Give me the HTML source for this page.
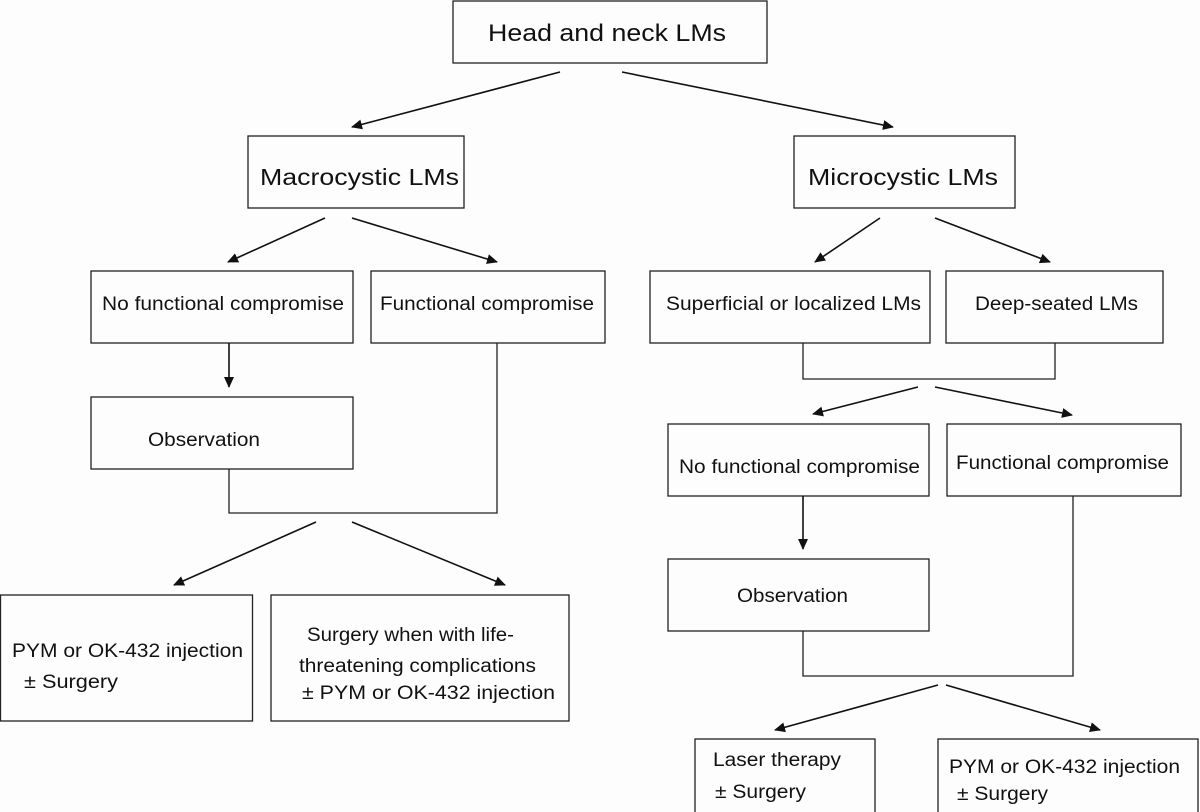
<!DOCTYPE html>
<html><head><meta charset="utf-8"><style>
html,body{margin:0;padding:0;background:#fdfdfe;}
svg{display:block}
text{font-family:"Liberation Sans",Arial,sans-serif;fill:#111;}
</style></head><body>
<svg width="1200" height="812" viewBox="0 0 1200 812" xmlns="http://www.w3.org/2000/svg">
<defs><marker id="a" markerWidth="12" markerHeight="10" refX="10" refY="5" orient="auto" markerUnits="userSpaceOnUse"><path d="M0,0 L11,5 L0,10 z" fill="#111"/></marker></defs>
<g fill="none" stroke="#222" stroke-width="1.3">
<rect x="453" y="1" width="314" height="62"/>
<rect x="248" y="136" width="216" height="72"/>
<rect x="794" y="136" width="221" height="72"/>
<rect x="91" y="271" width="262" height="72"/>
<rect x="371" y="271" width="234" height="72"/>
<rect x="91" y="397" width="262" height="72"/>
<rect x="650" y="271" width="280" height="72"/>
<rect x="946" y="271" width="217" height="72"/>
<rect x="668" y="424" width="261" height="72"/>
<rect x="947" y="424" width="234" height="72"/>
<rect x="668" y="559" width="261" height="72"/>
<rect x="0.5" y="595" width="252" height="126"/>
<rect x="271" y="595" width="298" height="126"/>
<rect x="695" y="739" width="180" height="80"/>
<rect x="938" y="739" width="260" height="80"/>
<polyline points="229,469 229,513 497,513 497,343"/>
<polyline points="803,343 803,379 1055,379 1055,343"/>
<polyline points="803,631 803,676 1073,676 1073,496"/>
</g>
<g stroke="#111" stroke-width="1.6" marker-end="url(#a)">
<line x1="560" y1="72" x2="352" y2="127"/>
<line x1="622" y1="72" x2="893" y2="127"/>
<line x1="325" y1="218" x2="228" y2="262"/>
<line x1="352" y1="218" x2="497" y2="262"/>
<line x1="229" y1="343" x2="229" y2="387"/>
<line x1="316" y1="522" x2="174" y2="585"/>
<line x1="352" y1="522" x2="505" y2="585"/>
<line x1="880" y1="218" x2="815" y2="262"/>
<line x1="935" y1="218" x2="1050" y2="262"/>
<line x1="918" y1="387" x2="813" y2="414"/>
<line x1="935" y1="387" x2="1072" y2="415"/>
<line x1="803" y1="496" x2="803" y2="549"/>
<line x1="938" y1="685" x2="775" y2="730"/>
<line x1="946" y1="685" x2="1100" y2="730"/>
</g>
<g lengthAdjust="spacingAndGlyphs">
<text x="488" y="41" font-size="24" textLength="238" lengthAdjust="spacingAndGlyphs">Head and neck LMs</text>
<text x="260" y="185" font-size="23" textLength="199" lengthAdjust="spacingAndGlyphs">Macrocystic LMs</text>
<text x="808" y="185" font-size="23" textLength="190" lengthAdjust="spacingAndGlyphs">Microcystic LMs</text>
</g>
<g font-size="19">
<text x="102" y="310" textLength="242" lengthAdjust="spacingAndGlyphs">No functional compromise</text>
<text x="380" y="310" textLength="214" lengthAdjust="spacingAndGlyphs">Functional compromise</text>
<text x="148" y="446" textLength="112" lengthAdjust="spacingAndGlyphs">Observation</text>
<text x="666" y="310" textLength="255" lengthAdjust="spacingAndGlyphs">Superficial or localized LMs</text>
<text x="975" y="310" textLength="163" lengthAdjust="spacingAndGlyphs">Deep-seated LMs</text>
<text x="679" y="473" textLength="241" lengthAdjust="spacingAndGlyphs">No functional compromise</text>
<text x="956" y="469" textLength="213" lengthAdjust="spacingAndGlyphs">Functional compromise</text>
<text x="737" y="602" textLength="111" lengthAdjust="spacingAndGlyphs">Observation</text>
<text x="12" y="657" textLength="231" lengthAdjust="spacingAndGlyphs">PYM or OK-432 injection</text>
<text x="24" y="688" textLength="94" lengthAdjust="spacingAndGlyphs">± Surgery</text>
<text x="307" y="641" textLength="207" lengthAdjust="spacingAndGlyphs">Surgery when with life-</text>
<text x="299" y="672" textLength="237" lengthAdjust="spacingAndGlyphs">threatening complications</text>
<text x="302" y="699" textLength="253" lengthAdjust="spacingAndGlyphs">± PYM or OK-432 injection</text>
<text x="713" y="766" textLength="128" lengthAdjust="spacingAndGlyphs">Laser therapy</text>
<text x="715" y="798" textLength="91" lengthAdjust="spacingAndGlyphs">± Surgery</text>
<text x="949" y="773" textLength="231" lengthAdjust="spacingAndGlyphs">PYM or OK-432 injection</text>
<text x="957" y="800" textLength="91" lengthAdjust="spacingAndGlyphs">± Surgery</text>
</g>
</svg>
</body></html>
